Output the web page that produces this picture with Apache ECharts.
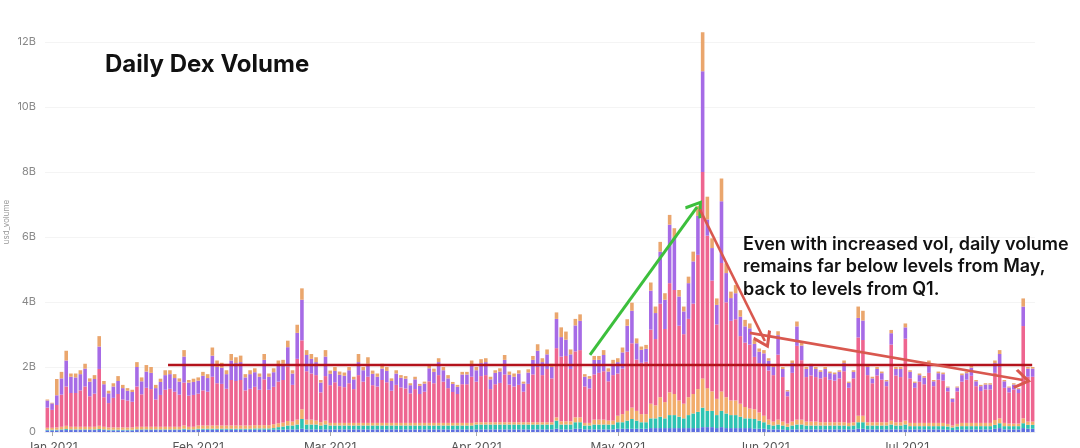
<!DOCTYPE html>
<html><head><meta charset="utf-8">
<script src="https://cdn.jsdelivr.net/npm/echarts@6/dist/echarts.min.js"></script>
<style>html,body{margin:0;padding:0;background:#fff}#c{width:1080px;height:448px}</style>
</head><body><div id="c"></div>
<script>
// Daily bars from 2020-12-31 to 2021-07-28 (210 days)
const startDate = [2020, 11, 31];
const dayCount = 210;
const categories = [];
for (let k = 0; k < dayCount; k++) {
  categories.push(new Date(Date.UTC(startDate[0], startDate[1], startDate[2] + k)).toISOString().slice(0, 10));
}
const tickDates  = ['2021-01-01','2021-02-01','2021-03-01','2021-04-01','2021-05-01','2021-06-01','2021-07-01'];
const tickLabels = ['Jan 2021','Feb 2021','Mar 2021','Apr 2021','May 2021','Jun 2021','Jul 2021'];

// values in billions USD
const blue = [.05,.05,.05,.06,.06,.06,.06,.06,.06,.06,
 .06,.06,.06,.05,.05,.05,.05,.05,.05,.06,
 .06,.06,.06,.06,.06,.06,.06,.06,.06,.07,
 .06,.06,.07,.07,.07,.07,.07,.07,.07,.07,
 .07,.07,.07,.07,.07,.07,.07,.07,.07,.07,
 .07,.08,.08,.08,.1,.08,.08,.08,.08,.08,
 .08,.08,.08,.08,.08,.08,.08,.08,.08,.08,
 .08,.08,.08,.08,.08,.08,.08,.08,.08,.08,
 .08,.08,.08,.08,.08,.08,.08,.08,.08,.08,
 .08,.08,.08,.08,.08,.08,.08,.08,.08,.08,
 .08,.08,.08,.08,.08,.08,.08,.08,.1,.08,
 .08,.08,.1,.1,.08,.08,.08,.08,.08,.08,
 .08,.1,.1,.1,.1,.1,.1,.1,.12,.12,
 .12,.12,.12,.12,.12,.12,.12,.12,.12,.15,
 .15,.15,.12,.15,.12,.12,.12,.12,.12,.12,
 .1,.1,.1,.08,.08,.08,.08,.06,.08,.08,
 .08,.08,.08,.08,.08,.08,.08,.08,.08,.08,
 .08,.08,.1,.1,.08,.08,.08,.08,.08,.08,
 .08,.08,.08,.08,.08,.08,.08,.08,.08,.08,
 .08,.07,.06,.07,.08,.08,.08,.08,.08,.08,
 .08,.1,.12,.08,.08,.08,.08,.12,.1,.1];
const teal = [.02,.02,.02,.02,.03,.02,.02,.02,.02,.02,
 .02,.03,.02,.02,.02,.02,.02,.02,.02,.02,
 .02,.02,.02,.02,.02,.02,.02,.02,.02,.03,
 .02,.02,.03,.03,.03,.03,.03,.03,.03,.03,
 .03,.03,.03,.03,.04,.04,.04,.04,.05,.08,
 .1,.12,.12,.15,.3,.15,.15,.15,.12,.15,
 .12,.12,.12,.12,.12,.12,.12,.12,.12,.12,
 .12,.12,.12,.12,.12,.12,.12,.12,.12,.12,
 .12,.12,.12,.12,.12,.12,.12,.12,.12,.12,
 .12,.15,.15,.15,.15,.15,.15,.15,.15,.15,
 .15,.15,.15,.15,.15,.15,.15,.15,.25,.15,
 .15,.15,.2,.2,.12,.12,.15,.15,.15,.15,
 .15,.2,.2,.25,.3,.25,.2,.2,.3,.3,
 .35,.3,.4,.4,.35,.3,.4,.45,.5,.6,
 .5,.5,.4,.5,.45,.4,.4,.35,.3,.3,
 .3,.25,.2,.15,.12,.15,.12,.1,.12,.15,
 .15,.12,.12,.12,.12,.12,.12,.12,.12,.12,
 .1,.12,.2,.2,.12,.12,.12,.12,.12,.15,
 .12,.12,.15,.1,.1,.1,.1,.1,.1,.1,
 .1,.1,.08,.1,.1,.1,.1,.1,.1,.1,
 .1,.12,.15,.1,.1,.1,.1,.15,.12,.12];
const tan = [.06,.06,.07,.08,.1,.08,.08,.08,.08,.08,
 .08,.1,.08,.07,.07,.07,.07,.07,.07,.08,
 .08,.08,.08,.08,.08,.08,.08,.08,.08,.1,
 .08,.08,.1,.1,.1,.1,.1,.1,.1,.1,
 .1,.1,.1,.1,.1,.1,.1,.1,.12,.12,
 .12,.14,.12,.15,.3,.15,.15,.12,.1,.12,
 .08,.08,.08,.08,.08,.08,.08,.08,.08,.08,
 .08,.08,.08,.08,.08,.08,.08,.08,.08,.08,
 .08,.08,.08,.08,.08,.08,.08,.08,.08,.08,
 .08,.07,.07,.07,.07,.07,.07,.07,.07,.07,
 .07,.07,.07,.07,.07,.07,.07,.07,.1,.1,
 .1,.1,.15,.15,.08,.08,.15,.15,.15,.12,
 .12,.2,.25,.3,.35,.3,.25,.25,.45,.4,
 .6,.5,.7,.65,.5,.45,.55,.6,.7,.9,
 .7,.6,.5,.6,.5,.45,.45,.4,.35,.3,
 .3,.25,.2,.15,.12,.15,.12,.1,.12,.15,
 .15,.12,.12,.12,.1,.1,.1,.1,.1,.1,
 .1,.1,.2,.2,.1,.1,.1,.1,.1,.12,
 .1,.1,.12,.1,.1,.1,.1,.1,.1,.1,
 .1,.08,.06,.08,.1,.1,.1,.1,.1,.1,
 .1,.15,.15,.1,.08,.08,.08,.15,.1,.1];
const pink = [.62,.55,.69,.99,1.21,1.04,1.04,1.12,1.24,.94,
 1.02,1.75,.91,.75,.91,1.03,.86,.83,.79,1.24,
 1.0,1.2,1.16,.84,.98,1.14,1.17,1.08,.99,1.32,
 .96,.98,.98,1.08,1.04,1.5,1.3,1.28,1.13,1.4,
 1.37,1.4,1.08,1.13,1.18,1.09,1.41,1.09,1.15,1.28,
 1.31,1.67,1.13,1.87,2.12,1.49,1.42,1.4,.92,1.37,
 1.16,1.25,1.13,1.1,1.22,1.04,1.47,1.27,1.42,1.16,
 1.12,1.32,1.25,.99,1.17,1.09,1.06,.91,1.04,.89,
 .96,1.28,1.22,1.47,1.27,1.07,.95,.89,1.19,1.19,
 1.42,1.25,1.42,1.45,1.02,1.17,1.21,1.47,1.16,1.1,
 1.15,.94,1.18,1.47,1.7,1.45,1.64,1.35,2.13,1.99,
 2.01,1.61,2.03,2.07,1.12,1.06,1.39,1.44,1.49,1.21,
 1.4,1.3,1.4,1.82,1.98,1.58,1.58,1.61,2.28,2.04,
 2.88,2.25,3.36,3.2,2.3,2.14,2.41,2.78,4.13,6.35,
 4.69,3.41,2.29,3.95,2.92,2.45,2.5,2.08,1.98,1.97,
 1.61,1.52,1.57,1.51,1.43,2.0,1.37,.84,1.5,2.27,
 1.83,1.37,1.42,1.37,1.35,1.39,1.31,1.28,1.35,1.57,
 1.08,1.35,2.41,2.33,1.45,1.2,1.44,1.31,1.11,2.34,
 1.44,1.39,2.52,1.37,1.08,1.27,1.19,1.54,1.13,1.33,
 1.3,1.0,.72,1.0,1.27,1.33,1.45,1.13,.98,1.03,
 1.03,1.45,1.58,1.08,.96,1.05,.94,2.84,1.38,1.38];
const purple = [.22,.2,.3,.5,.8,.5,.48,.5,.55,.45,
 .45,.69,.4,.3,.35,.4,.35,.3,.3,.6,
 .4,.5,.5,.35,.4,.45,.45,.42,.4,.8,
 .4,.4,.4,.45,.42,.65,.5,.5,.45,.6,
 .55,.55,.4,.45,.45,.4,.6,.4,.45,.5,
 .5,.6,.35,.8,1.25,.5,.45,.4,.3,.6,
 .35,.35,.35,.35,.4,.3,.4,.35,.4,.35,
 .3,.35,.35,.3,.35,.3,.3,.25,.3,.25,
 .25,.4,.35,.4,.35,.3,.25,.22,.3,.3,
 .35,.35,.4,.4,.3,.35,.35,.45,.3,.3,
 .35,.25,.35,.45,.5,.4,.45,.35,.9,.6,
 .5,.45,.8,.9,.3,.3,.45,.4,.5,.3,
 .35,.35,.5,.8,1.0,.5,.4,.4,1.2,.8,
 1.6,.9,1.8,1.6,.9,.7,1.1,1.3,1.2,3.1,
 .5,1.0,.6,1.9,.9,.7,.8,.6,.5,.5,
 .4,.35,.35,.3,.25,.6,.25,.15,.3,.6,
 .45,.25,.3,.25,.2,.25,.2,.2,.2,.25,
 .15,.2,.6,.6,.25,.15,.2,.2,.15,.35,
 .2,.25,.35,.2,.15,.2,.2,.3,.15,.2,
 .2,.12,.1,.12,.2,.2,.25,.15,.15,.15,
 .15,.3,.4,.2,.15,.15,.12,.6,.25,.25];
const orange = [.03,.02,.5,.2,.3,.1,.12,.12,.15,.1,
 .12,.32,.1,.08,.1,.15,.1,.08,.07,.15,
 .12,.2,.18,.1,.1,.15,.12,.12,.1,.2,
 .08,.1,.1,.12,.12,.25,.2,.15,.12,.2,
 .18,.2,.1,.12,.12,.1,.18,.1,.12,.15,
 .12,.2,.1,.25,.35,.15,.15,.15,.08,.2,
 .1,.12,.1,.1,.1,.08,.25,.1,.2,.1,
 .1,.15,.12,.08,.1,.08,.08,.06,.08,.06,
 .06,.1,.1,.12,.1,.1,.06,.06,.08,.08,
 .15,.1,.12,.12,.08,.08,.1,.15,.1,.1,
 .1,.06,.1,.12,.2,.12,.15,.1,.2,.3,
 .25,.15,.2,.2,.08,.08,.12,.12,.15,.1,
 .12,.12,.15,.2,.25,.15,.1,.12,.25,.2,
 .3,.2,.3,.3,.2,.15,.2,.3,.3,1.2,
 .7,.3,.2,.7,.3,.2,.25,.2,.2,.15,
 .12,.1,.1,.08,.06,.12,.06,.04,.08,.15,
 .12,.06,.06,.06,.05,.06,.05,.05,.05,.08,
 .04,.05,.35,.3,.06,.05,.06,.05,.04,.1,
 .06,.06,.12,.05,.04,.05,.05,.08,.04,.05,
 .05,.03,.02,.03,.05,.05,.08,.04,.04,.04,
 .04,.08,.12,.04,.03,.04,.03,.25,.05,.05];

// hand-drawn annotation lines: [dayIndex, valueB] pairs
const refLine    = [[25.6, 2.08], [208.9, 2.08]];
const greenArrow = [[115.1, 2.37], [137.8, 6.92]];
const redArrow1  = [[138.4, 6.85], [152.2, 2.8]];
const redArrow2  = [[149.0, 3.05], [206.9, 1.6]];

const chevron = 'path://M5,0 L10,8.2 L8.9,9.4 L5,3.0 L1.1,9.4 L0,8.2 Z';

const FONT = 'Inter, "Liberation Sans", sans-serif';
const chart = echarts.init(document.getElementById('c'), null, {renderer: 'canvas'});

function barSeries(name, data, color) {
  return {
    name, type: 'bar', stack: 'total', data, clip: false,
    barCategoryGap: '24%',
    itemStyle: {color},
    emphasis: {disabled: true},
    animation: false
  };
}
function seg(pts, color, width, arrow) {
  return [
    {coord: pts[0], symbol: 'none', lineStyle: {color, width, type: 'solid', opacity: 1}},
    {coord: pts[1], symbol: arrow ? chevron : 'none', symbolSize: [20, 17]}
  ];
}

chart.setOption({
  animation: false,
  backgroundColor: '#ffffff',
  title: {
    text: 'Daily Dex Volume', left: 100, top: 48,
    textStyle: {fontSize: 24, fontWeight: 'bold', color: '#111', fontFamily: FONT}
  },
  grid: {left: 45, right: 45, top: 42, bottom: 16, containLabel: false, outerBoundsMode: 'none'},
  xAxis: [{
    type: 'category', data: categories,
    axisLine: {show: true, lineStyle: {color: '#ececec'}},
    axisTick: {show: true, alignWithLabel: true, length: 4,
      interval: (i, v) => tickDates.includes(v), lineStyle: {color: '#aaa'}},
    axisLabel: {interval: (i, v) => tickDates.includes(v),
      formatter: v => tickLabels[tickDates.indexOf(v)] || '',
      color: '#555', fontSize: 12, margin: 9, fontFamily: FONT},
    splitLine: {show: false}
  }, {
    type: 'value', min: -0.5, max: dayCount - 0.5, show: false
  }],
  yAxis: {
    type: 'value', min: 0, max: 12, interval: 2,
    axisLine: {show: false}, axisTick: {show: false},
    axisLabel: {formatter: v => v === 0 ? '0' : v + 'B', color: '#888', fontSize: 11,
      margin: 9, fontFamily: FONT},
    splitLine: {lineStyle: {color: '#f4f4f4', width: 1}}
  },
  graphic: [{
    type: 'text', left: 743, top: 233, z: 100,
    style: {
      text: 'Even with increased vol, daily volume\nremains far below levels from May,\nback to levels from Q1.',
      font: '600 18px Inter, "Liberation Sans", sans-serif', fill: '#111', lineHeight: 22.5
    }
  }, {
    type: 'text', x: 7, y: 222, rotation: Math.PI / 2, z: 100,
    style: {text: 'usd_volume', font: '8px Inter, "Liberation Sans", sans-serif',
      fill: '#999', align: 'center', verticalAlign: 'middle'}
  }],
  series: [
    barSeries('blue', blue, '#5d6fe0'),
    barSeries('teal', teal, '#2ec3b2'),
    barSeries('tan', tan, '#f2ad6c'),
    barSeries('pink', pink, '#ee6590'),
    barSeries('purple', purple, '#a66be6'),
    barSeries('orange', orange, '#eaa66d'),
    {
      type: 'line', xAxisIndex: 1, yAxisIndex: 0, data: [], silent: true,
      markLine: {
        silent: true, animation: false, label: {show: false},
        emphasis: {disabled: true},
        data: [
          seg(refLine, '#b3121b', 2.4, false),
          seg(greenArrow, '#3cbf3c', 3, true),
          seg(redArrow1, '#d9584f', 2.6, true),
          seg(redArrow2, '#d9584f', 2.6, true)
        ]
      }
    }
  ]
});
</script></body></html>
